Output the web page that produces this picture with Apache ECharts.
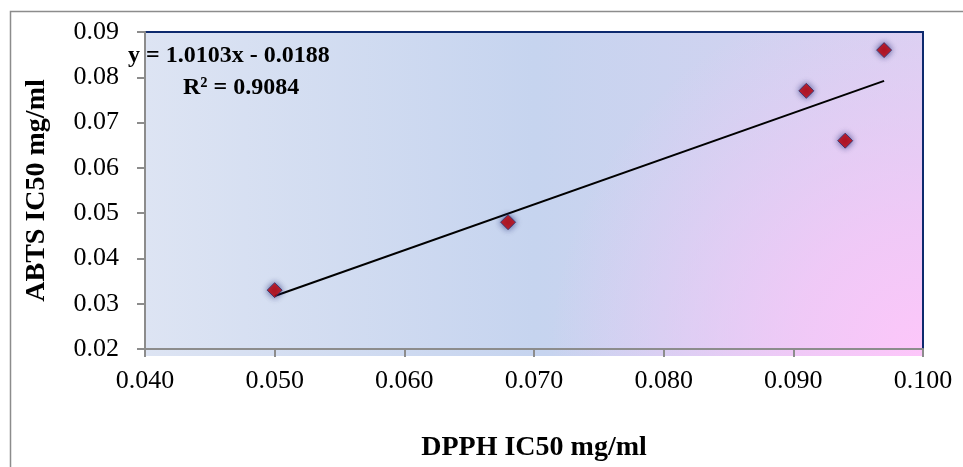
<!DOCTYPE html>
<html>
<head>
<meta charset="utf-8">
<script src="https://cdn.jsdelivr.net/npm/echarts@6/dist/echarts.min.js"></script>
<style>html,body{margin:0;padding:0;background:#fff;}#c{width:963px;height:467px;}</style>
</head>
<body>
<div id="c"></div>
<script>
// Data
var dpph = [0.050, 0.068, 0.091, 0.094, 0.097];
var abts = [0.033, 0.048, 0.077, 0.066, 0.086];
var trendX = [0.050, 0.097];
var trendY = [0.0317, 0.0792];
var equationText = 'y = 1.0103x - 0.0188';
var r2Text = 'R² = 0.9084';
var xTitle = 'DPPH IC50 mg/ml';
var yTitle = 'ABTS IC50 mg/ml';

var FONT = "'Liberation Serif','Times New Roman',serif";
var G = {left: 145, top: 32, right: 40, bottom: 111};
var W = 963, H = 467;
var gw = W - G.left - G.right, gh = H - G.top - G.bottom;

var chart = echarts.init(document.getElementById('c'));
chart.setOption({
  backgroundColor: '#ffffff',
  animation: false,
  grid: {left: G.left, top: G.top, right: G.right, bottom: G.bottom, show: true,
         backgroundColor: 'transparent', borderColor: '#0d2a6e', borderWidth: 2},
  graphic: [
    {type: 'rect', z: -10, silent: true, shape: {x: 10.5, y: 11.5, width: 1200, height: 700},
     style: {fill: '#fff', stroke: '#8c8c8c', lineWidth: 1.5}},
    {type: 'rect', z: -9, silent: true, shape: {x: G.left, y: G.top, width: gw, height: gh},
     style: {fill: new echarts.graphic.LinearGradient(0, 0, 1, 0, [
        {offset: 0, color: '#dde4f3'},
        {offset: 0.5, color: '#c6d4ef'},
        {offset: 1, color: '#d8d1f1'}])}},
    {type: 'rect', z: -8, silent: true, shape: {x: G.left, y: G.top, width: gw, height: gh},
     style: {fill: new echarts.graphic.RadialGradient(1, 1, 1.15, [
        {offset: 0, color: 'rgba(253,198,250,1)'},
        {offset: 0.35, color: 'rgba(246,199,248,0.8)'},
        {offset: 1, color: 'rgba(240,200,248,0)'}])}},
    {type: 'text', z: 10, left: 128, top: 44,
     style: {text: equationText, font: "bold 24px " + FONT, fill: '#000'}},
    {type: 'text', z: 10, left: 183, top: 76,
     style: {text: r2Text, font: "bold 24px " + FONT, fill: '#000'}}
  ],
  xAxis: {
    type: 'value', min: 0.04, max: 0.1, interval: 0.01,
    name: xTitle, nameLocation: 'middle', nameGap: 85,
    nameTextStyle: {fontFamily: FONT, fontSize: 28, fontWeight: 'bold', color: '#000'},
    axisLine: {show: true, onZero: false, lineStyle: {color: '#8c8c8c', width: 2}},
    axisTick: {show: true, inside: false, length: 8, lineStyle: {color: '#8c8c8c', width: 2}},
    axisLabel: {fontFamily: FONT, fontSize: 26, color: '#000', margin: 19,
      formatter: function (v) { return v.toFixed(3); }},
    splitLine: {show: false}
  },
  yAxis: {
    type: 'value', min: 0.02, max: 0.09, interval: 0.01,
    name: yTitle, nameLocation: 'middle', nameGap: 94, nameRotate: 90,
    nameTextStyle: {fontFamily: FONT, fontSize: 28, fontWeight: 'bold', color: '#000'},
    axisLine: {show: true, onZero: false, lineStyle: {color: '#8c8c8c', width: 2}},
    axisTick: {show: true, inside: false, length: 8, lineStyle: {color: '#8c8c8c', width: 2}},
    axisLabel: {fontFamily: FONT, fontSize: 26, color: '#000', margin: 26,
      formatter: function (v) { return v.toFixed(2); }},
    splitLine: {show: false}
  },
  series: [
    {type: 'line', data: trendX.map(function (x, i) { return [x, trendY[i]]; }),
     showSymbol: false, symbol: 'none', z: 3,
     lineStyle: {color: '#000', width: 2}},
    {type: 'scatter', data: dpph.map(function (x, i) { return [x, abts[i]]; }),
     symbol: 'diamond', symbolSize: 15, z: 4,
     itemStyle: {color: '#cc0000', borderColor: '#2a2f6e', borderWidth: 1,
                 shadowBlur: 6, shadowColor: 'rgba(25,35,110,0.9)'}}
  ]
});
</script>
</body>
</html>
